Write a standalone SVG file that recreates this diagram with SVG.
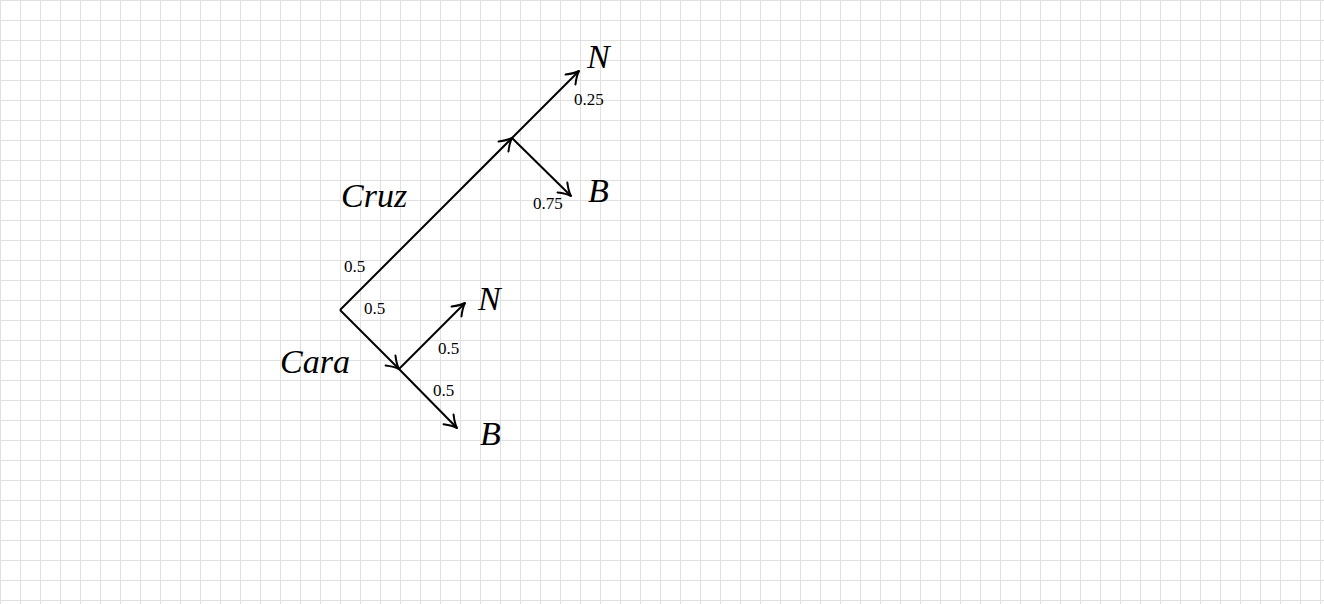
<svg xmlns="http://www.w3.org/2000/svg" width="1324" height="604" viewBox="0 0 1324 604">
<defs>
<pattern id="grid" width="20" height="20" patternUnits="userSpaceOnUse">
<path d="M0 0.5H20M0.5 0V20" fill="none" stroke="#e0e0e0" stroke-width="1"/>
</pattern>
<marker id="arr" viewBox="-14 -8 16 16" markerWidth="16" markerHeight="16" refX="0" refY="0" orient="auto" markerUnits="userSpaceOnUse">
<path d="M-12,-7 Q-5,-1.5 0,0 Q-5,1.5 -12,7" fill="none" stroke="#000" stroke-width="2" stroke-linecap="round" stroke-linejoin="round"/>
</marker>
<style>
.ln{stroke:#000;stroke-width:2;fill:none;marker-end:url(#arr)}
.big{font-family:"Liberation Serif",serif;font-style:italic;font-size:34px;fill:#000}
.num{font-family:"Liberation Serif",serif;font-size:17px;fill:#000}
</style>
</defs>
<rect width="1324" height="604" fill="#fff"/>
<rect width="1324" height="604" fill="url(#grid)"/>
<g id="connectors">
<line class="ln" x1="340" y1="310" x2="512" y2="138"/>
<line class="ln" x1="512" y1="138" x2="579" y2="71"/>
<line class="ln" x1="512" y1="138" x2="571" y2="196"/>
<line class="ln" x1="340" y1="310" x2="399" y2="369"/>
<line class="ln" x1="399" y1="369" x2="465" y2="303"/>
<line class="ln" x1="399" y1="369" x2="457" y2="428"/>
</g>
<g id="labels">
<text class="num" x="574" y="105">0.25</text>
<text class="num" x="533" y="209">0.75</text>
<text class="num" x="344" y="272">0.5</text>
<text class="num" x="364" y="314">0.5</text>
<text class="num" x="438" y="354">0.5</text>
<text class="num" x="433" y="396">0.5</text>
</g>
<g id="node-N1"><text class="big" x="587" y="68">N</text></g>
<g id="node-B1"><text class="big" x="588" y="202">B</text></g>
<g id="node-Cruz"><text class="big" x="341" y="207">Cruz</text></g>
<g id="node-Cara"><text class="big" x="280" y="373">Cara</text></g>
<g id="node-N2"><text class="big" x="478" y="310">N</text></g>
<g id="node-B2"><text class="big" x="480" y="445">B</text></g>
</svg>
